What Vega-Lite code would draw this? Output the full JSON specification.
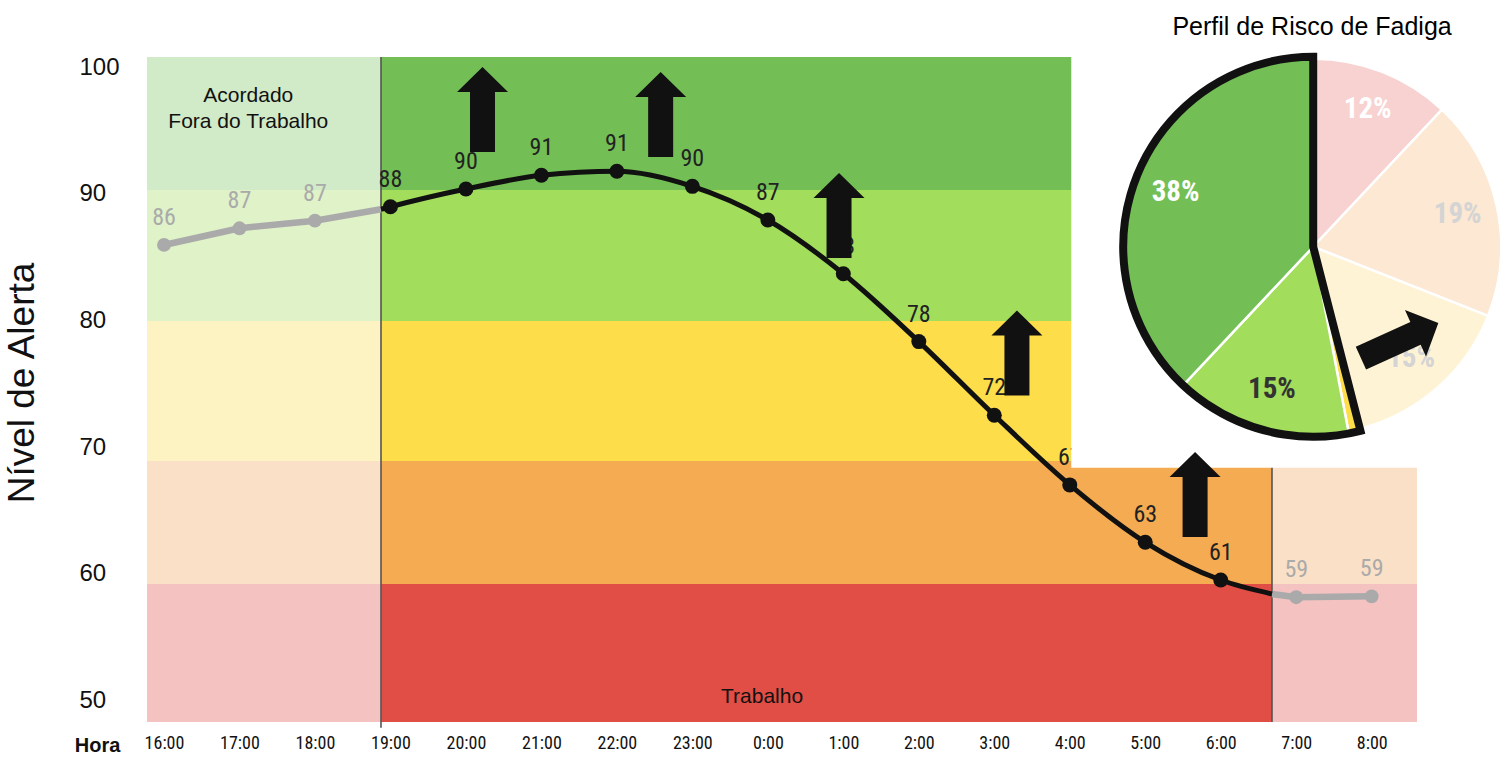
{
  "$schema": "https://vega.github.io/schema/vega-lite/v6.json",
  "width": 1270,
  "height": 665,
  "autosize": {"type": "none"},
  "padding": {"left": 147, "top": 57, "right": 90, "bottom": 39},
  "background": "white",
  "config": {
    "view": {"stroke": null},
    "axis": {"grid": false, "ticks": false, "domain": false, "labelColor": "#111111", "titleColor": "#111111"},
    "axisX": {
      "labelFont": "Roboto Condensed, Liberation Sans Narrow, DejaVu Sans Condensed, Roboto, sans-serif",
      "labelFontSize": 18,
      "labelPadding": 12,
      "titleFont": "Liberation Sans, Arial, sans-serif",
      "titleFontSize": 20,
      "titleFontWeight": "bold"
    },
    "axisY": {
      "labelFont": "Liberation Sans, Arial, sans-serif",
      "labelFontSize": 24,
      "labelAlign": "left",
      "labelPadding": 68,
      "titleFont": "Liberation Sans, Arial, sans-serif",
      "titleFontSize": 37,
      "titleFontWeight": "normal"
    }
  },
  "datasets": {
    "faixas": [
      {"hora": -0.225, "hora_fim": 2.875, "alerta": 90.3, "alerta_fim": 100.8, "nivel": "verde-escuro-palido"},
      {"hora": -0.225, "hora_fim": 2.875, "alerta": 79.96, "alerta_fim": 90.3, "nivel": "verde-claro-palido"},
      {"hora": -0.225, "hora_fim": 2.875, "alerta": 68.91, "alerta_fim": 79.96, "nivel": "amarelo-palido"},
      {"hora": -0.225, "hora_fim": 2.875, "alerta": 59.2, "alerta_fim": 68.91, "nivel": "laranja-palido"},
      {"hora": -0.225, "hora_fim": 2.875, "alerta": 48.3, "alerta_fim": 59.2, "nivel": "vermelho-palido"},
      {"hora": 2.875, "hora_fim": 14.679, "alerta": 90.3, "alerta_fim": 100.8, "nivel": "verde-escuro"},
      {"hora": 2.875, "hora_fim": 14.679, "alerta": 79.96, "alerta_fim": 90.3, "nivel": "verde-claro"},
      {"hora": 2.875, "hora_fim": 14.679, "alerta": 68.91, "alerta_fim": 79.96, "nivel": "amarelo"},
      {"hora": 2.875, "hora_fim": 14.679, "alerta": 59.2, "alerta_fim": 68.91, "nivel": "laranja"},
      {"hora": 2.875, "hora_fim": 14.679, "alerta": 48.3, "alerta_fim": 59.2, "nivel": "vermelho"},
      {"hora": 14.679, "hora_fim": 16.6, "alerta": 59.2, "alerta_fim": 68.91, "nivel": "laranja-palido"},
      {"hora": 14.679, "hora_fim": 16.6, "alerta": 48.3, "alerta_fim": 59.2, "nivel": "vermelho-palido"}
    ],
    "divisas": [
      {"hora": 2.875, "alerta": 47.85, "alerta_fim": 100.8},
      {"hora": 14.679, "alerta": 48.3, "alerta_fim": 100.8}
    ],
    "curva": [
      {"hora": 0, "alerta": 85.96, "rotulo": "86", "fase": "fora", "trecho": "antes"},
      {"hora": 1, "alerta": 87.28, "rotulo": "87", "fase": "fora", "trecho": "antes"},
      {"hora": 2, "alerta": 87.88, "rotulo": "87", "fase": "fora", "trecho": "antes"},
      {"hora": 2.875, "alerta": 88.78, "rotulo": null, "fase": "fora", "trecho": "antes"},
      {"hora": 2.875, "alerta": 88.78, "rotulo": null, "fase": "trabalho", "trecho": "turno"},
      {"hora": 3, "alerta": 88.98, "rotulo": "88", "fase": "trabalho", "trecho": "turno"},
      {"hora": 4, "alerta": 90.38, "rotulo": "90", "fase": "trabalho", "trecho": "turno"},
      {"hora": 5, "alerta": 91.46, "rotulo": "91", "fase": "trabalho", "trecho": "turno"},
      {"hora": 6, "alerta": 91.78, "rotulo": "91", "fase": "trabalho", "trecho": "turno"},
      {"hora": 7, "alerta": 90.59, "rotulo": "90", "fase": "trabalho", "trecho": "turno"},
      {"hora": 8, "alerta": 87.93, "rotulo": "87", "fase": "trabalho", "trecho": "turno"},
      {"hora": 9, "alerta": 83.69, "rotulo": "83", "fase": "trabalho", "trecho": "turno"},
      {"hora": 10, "alerta": 78.33, "rotulo": "78", "fase": "trabalho", "trecho": "turno"},
      {"hora": 11, "alerta": 72.52, "rotulo": "72", "fase": "trabalho", "trecho": "turno"},
      {"hora": 12, "alerta": 67.02, "rotulo": "67", "fase": "trabalho", "trecho": "turno"},
      {"hora": 13, "alerta": 62.49, "rotulo": "63", "fase": "trabalho", "trecho": "turno"},
      {"hora": 14, "alerta": 59.51, "rotulo": "61", "fase": "trabalho", "trecho": "turno"},
      {"hora": 14.679, "alerta": 58.41, "rotulo": null, "fase": "trabalho", "trecho": "turno"},
      {"hora": 14.679, "alerta": 58.41, "rotulo": null, "fase": "fora", "trecho": "depois"},
      {"hora": 15, "alerta": 58.15, "rotulo": "59", "fase": "fora", "trecho": "depois"},
      {"hora": 16, "alerta": 58.22, "rotulo": "59", "fase": "fora", "trecho": "depois"}
    ],
    "anotacoes": [
      {"texto": "Acordado\nFora do Trabalho", "hora": 1.117, "alerta": 97.27, "tipo": "zona"},
      {"texto": "Trabalho", "hora": 7.923, "alerta": 49.8, "tipo": "zona"},
      {"texto": "Perfil de Risco de Fadiga", "hora": 15.21, "alerta": 102.54, "tipo": "titulo"}
    ],
    "painel": [
      {"hora": 12.02, "hora_fim": 16.6, "alerta": 68.38, "alerta_fim": 100.8}
    ],
    "perfil": [
      {"faixa": "rosa", "pct": 12, "ordem": 1, "rotulo": "12%"},
      {"faixa": "pessego", "pct": 19, "ordem": 2, "rotulo": "19%"},
      {"faixa": "creme", "pct": 15, "ordem": 3, "rotulo": "15%"},
      {"faixa": "amarelo", "pct": 1, "ordem": 4, "rotulo": ""},
      {"faixa": "verde-claro", "pct": 15, "ordem": 5, "rotulo": "15%"},
      {"faixa": "verde-escuro", "pct": 38, "ordem": 6, "rotulo": "38%"}
    ],
    "contorno": [
      {"grupo": "baixo", "pct": 46, "ordem": 1},
      {"grupo": "alerta", "pct": 54, "ordem": 2}
    ],
    "setas": [
      {"hora": 4.22, "alerta": 96.66, "tipo": "cima"},
      {"hora": 6.58, "alerta": 96.26, "tipo": "cima"},
      {"hora": 8.943, "alerta": 88.29, "tipo": "cima"},
      {"hora": 11.3, "alerta": 77.43, "tipo": "cima"},
      {"hora": 13.66, "alerta": 66.26, "tipo": "cima"},
      {"hora": 16.37, "alerta": 78.42, "tipo": "diagonal"}
    ]
  },
  "layer": [
    {
      "data": {"name": "faixas"},
      "mark": {"type": "rect"},
      "encoding": {
        "x": {
          "field": "hora", "type": "quantitative",
          "scale": {"domain": [-0.225, 16.6], "nice": false, "zero": false},
          "axis": {
            "title": "Hora",
            "values": [0, 1, 2, 3, 4, 5, 6, 7, 8, 9, 10, 11, 12, 13, 14, 15, 16],
            "labelExpr": "((datum.value + 16) % 24) + ':00'",
            "titleX": -50, "titleY": 23, "titleAlign": "center", "titleBaseline": "middle", "titleAngle": 0
          }
        },
        "x2": {"field": "hora_fim"},
        "y": {
          "field": "alerta", "type": "quantitative",
          "scale": {"domain": [48.3, 100.8], "nice": false, "zero": false},
          "axis": {
            "title": "Nível de Alerta",
            "values": [50, 60, 70, 80, 90, 100],
            "titleX": -125, "titleY": 325.5, "titleAlign": "center", "titleBaseline": "middle", "titleAngle": -90
          }
        },
        "y2": {"field": "alerta_fim"},
        "color": {
          "field": "nivel", "type": "nominal", "legend": null,
          "scale": {
            "domain": ["verde-escuro-palido", "verde-claro-palido", "amarelo-palido", "laranja-palido", "vermelho-palido", "verde-escuro", "verde-claro", "amarelo", "laranja", "vermelho", "rosa", "pessego", "creme"],
            "range": ["#d1eac8", "#e0f2c8", "#fdf2c2", "#fae0c6", "#f4c2c0", "#73bf55", "#a2dd5b", "#fdde4a", "#f4ab52", "#e04e45", "#f7d2d1", "#fce8d3", "#fef3d4"]
          }
        }
      }
    },
    {
      "data": {"name": "divisas"},
      "mark": {"type": "rule", "color": "#555555", "strokeWidth": 1.6},
      "encoding": {
        "x": {"field": "hora", "type": "quantitative"},
        "y": {"field": "alerta", "type": "quantitative"},
        "y2": {"field": "alerta_fim"}
      }
    },
    {
      "data": {"name": "curva"},
      "transform": [{"filter": "datum.fase == 'fora'"}],
      "mark": {"type": "line", "color": "#aaaaaa", "strokeWidth": 6.5},
      "encoding": {
        "x": {"field": "hora", "type": "quantitative"},
        "y": {"field": "alerta", "type": "quantitative"},
        "detail": {"field": "trecho"}
      }
    },
    {
      "data": {"name": "curva"},
      "transform": [{"filter": "datum.fase == 'trabalho'"}],
      "mark": {"type": "line", "color": "#111111", "strokeWidth": 5, "interpolate": "monotone"},
      "encoding": {
        "x": {"field": "hora", "type": "quantitative"},
        "y": {"field": "alerta", "type": "quantitative"}
      }
    },
    {
      "data": {"name": "curva"},
      "transform": [{"filter": "datum.rotulo != null"}],
      "mark": {"type": "point", "filled": true, "opacity": 1},
      "encoding": {
        "x": {"field": "hora", "type": "quantitative"},
        "y": {"field": "alerta", "type": "quantitative"},
        "color": {"condition": {"test": "datum.fase == 'fora'", "value": "#aaaaaa"}, "value": "#111111"},
        "size": {"condition": {"test": "datum.fase == 'fora'", "value": 190}, "value": 225}
      }
    },
    {
      "data": {"name": "curva"},
      "transform": [{"filter": "datum.rotulo != null"}],
      "mark": {"type": "text", "font": "Roboto Condensed, Liberation Sans Narrow, DejaVu Sans Condensed, Roboto, sans-serif", "fontSize": 24, "baseline": "alphabetic", "dy": -20},
      "encoding": {
        "x": {"field": "hora", "type": "quantitative"},
        "y": {"field": "alerta", "type": "quantitative"},
        "text": {"field": "rotulo"},
        "color": {"condition": {"test": "datum.fase == 'fora'", "value": "#aaaaaa"}, "value": "#222222"}
      }
    },
    {
      "data": {"name": "anotacoes"},
      "transform": [{"filter": "datum.tipo == 'zona'"}],
      "mark": {"type": "text", "font": "Liberation Sans, Arial, sans-serif", "fontSize": 21, "baseline": "alphabetic", "lineBreak": "\n", "lineHeight": 26, "color": "#111111"},
      "encoding": {
        "x": {"field": "hora", "type": "quantitative"},
        "y": {"field": "alerta", "type": "quantitative"},
        "text": {"field": "texto"}
      }
    },
    {
      "data": {"name": "painel"},
      "mark": {"type": "rect", "color": "#ffffff", "opacity": 1},
      "encoding": {
        "x": {"field": "hora", "type": "quantitative"},
        "x2": {"field": "hora_fim"},
        "y": {"field": "alerta", "type": "quantitative"},
        "y2": {"field": "alerta_fim"}
      }
    },
    {
      "data": {"name": "perfil"},
      "mark": {"type": "arc", "outerRadius": 188, "stroke": "#ffffff", "strokeWidth": 2.5},
      "encoding": {
        "x": {"datum": 15.225, "type": "quantitative"},
        "y": {"datum": 85.82, "type": "quantitative"},
        "theta": {"field": "pct", "type": "quantitative", "stack": true},
        "order": {"field": "ordem", "type": "quantitative"},
        "color": {
          "field": "faixa", "type": "nominal", "legend": null,
          "scale": {
            "domain": ["verde-escuro-palido", "verde-claro-palido", "amarelo-palido", "laranja-palido", "vermelho-palido", "verde-escuro", "verde-claro", "amarelo", "laranja", "vermelho", "rosa", "pessego", "creme"],
            "range": ["#d1eac8", "#e0f2c8", "#fdf2c2", "#fae0c6", "#f4c2c0", "#73bf55", "#a2dd5b", "#fdde4a", "#f4ab52", "#e04e45", "#f7d2d1", "#fce8d3", "#fef3d4"]
          }
        }
      }
    },
    {
      "data": {"name": "contorno"},
      "mark": {"type": "arc", "outerRadius": 190, "filled": false, "strokeWidth": 8, "strokeJoin": "miter"},
      "encoding": {
        "x": {"datum": 15.225, "type": "quantitative"},
        "y": {"datum": 85.82, "type": "quantitative"},
        "theta": {"field": "pct", "type": "quantitative", "stack": true},
        "order": {"field": "ordem", "type": "quantitative"},
        "stroke": {"condition": {"test": "datum.grupo == 'alerta'", "value": "#111111"}, "value": "transparent"}
      }
    },
    {
      "data": {"name": "perfil"},
      "mark": {"type": "text", "radius": 148, "font": "Roboto Condensed, Liberation Sans Narrow, DejaVu Sans Condensed, Roboto, sans-serif", "fontWeight": "bold", "fontSize": 29, "baseline": "middle", "align": "center"},
      "encoding": {
        "x": {"datum": 15.225, "type": "quantitative"},
        "y": {"datum": 85.82, "type": "quantitative"},
        "theta": {"field": "pct", "type": "quantitative", "stack": true},
        "order": {"field": "ordem", "type": "quantitative"},
        "detail": {"field": "faixa"},
        "text": {"field": "rotulo"},
        "color": {
          "condition": [
            {"test": "datum.faixa == 'verde-claro'", "value": "#333333"},
            {"test": "datum.faixa == 'pessego' || datum.faixa == 'creme'", "value": "#d4d4d4"}
          ],
          "value": "#ffffff"
        }
      }
    },
    {
      "data": {"name": "anotacoes"},
      "transform": [{"filter": "datum.tipo == 'titulo'"}],
      "mark": {"type": "text", "font": "Liberation Sans, Arial, sans-serif", "fontSize": 25, "baseline": "alphabetic", "color": "#000000"},
      "encoding": {
        "x": {"field": "hora", "type": "quantitative"},
        "y": {"field": "alerta", "type": "quantitative"},
        "text": {"field": "texto"}
      }
    },
    {
      "data": {"name": "setas"},
      "transform": [{"filter": "datum.tipo == 'cima'"}],
      "mark": {
        "type": "point", "filled": true, "opacity": 1, "color": "#111111", "size": 7225,
        "shape": "M -0.294 1 L 0.294 1 L 0.294 -0.41 L 0.6 -0.41 L 0 -1 L -0.6 -0.41 L -0.294 -0.41 Z"
      },
      "encoding": {
        "x": {"field": "hora", "type": "quantitative"},
        "y": {"field": "alerta", "type": "quantitative"}
      }
    },
    {
      "data": {"name": "setas"},
      "transform": [{"filter": "datum.tipo == 'diagonal'"}],
      "mark": {
        "type": "point", "filled": true, "opacity": 1, "color": "#111111", "size": 7225, "angle": 65.6,
        "shape": "M -0.294 1 L 0.294 1 L 0.294 -0.41 L 0.6 -0.41 L 0 -1 L -0.6 -0.41 L -0.294 -0.41 Z"
      },
      "encoding": {
        "x": {"field": "hora", "type": "quantitative"},
        "y": {"field": "alerta", "type": "quantitative"}
      }
    }
  ]
}
